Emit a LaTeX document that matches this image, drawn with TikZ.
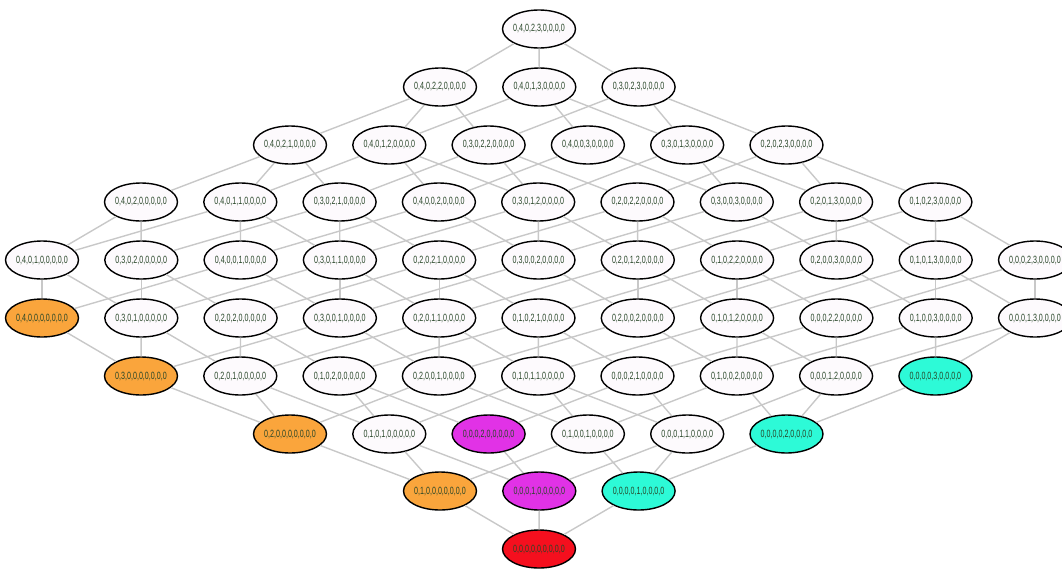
\documentclass[tikz,border=0pt]{standalone}
\usepackage{fontspec}
\usetikzlibrary{shapes.geometric}
\newfontfamily\lblfont[FakeStretch=0.68]{Liberation Sans}
\definecolor{lblgreen}{RGB}{40,70,40}
\definecolor{nodefill}{RGB}{253,250,253}
\definecolor{orn}{RGB}{250,165,60}
\definecolor{mgt}{RGB}{225,50,230}
\definecolor{cyn}{RGB}{45,250,215}
\definecolor{rd}{RGB}{245,15,30}
\definecolor{edgegray}{RGB}{200,200,200}

\begin{document}
\begin{tikzpicture}[x=1pt,y=-1pt,
  lat/.style={draw=black,line width=1.4pt,ellipse,minimum width=69pt,minimum height=38pt,inner sep=0pt,
    font=\lblfont\fontsize{10.5}{11}\selectfont,text=lblgreen},
  wht/.style={fill=nodefill},orng/.style={fill=orn},mag/.style={fill=mgt},cy/.style={fill=cyn},red/.style={fill=rd},
  edge/.style={draw=edgegray,line width=1.4pt}]
\useasboundingbox (0,0) rectangle (1062,568);
% rows of the lattice, top to bottom: node n<a><b><c> is 0,a,0,b,c,0,0,0,0
\foreach \a/\b/\c/\s [count=\i from 0] in {4/2/3/wht}
  \node[lat,\s] (n\a\b\c) at ({539+99.3*\i},29) {0,\a,0,\b,\c,0,0,0,0};
\foreach \a/\b/\c/\s [count=\i from 0] in {4/2/2/wht,4/1/3/wht,3/2/3/wht}
  \node[lat,\s] (n\a\b\c) at ({440+99.3*\i},87) {0,\a,0,\b,\c,0,0,0,0};
\foreach \a/\b/\c/\s [count=\i from 0] in {4/2/1/wht,4/1/2/wht,3/2/2/wht,4/0/3/wht,3/1/3/wht,2/2/3/wht}
  \node[lat,\s] (n\a\b\c) at ({290+99.3*\i},145) {0,\a,0,\b,\c,0,0,0,0};
\foreach \a/\b/\c/\s [count=\i from 0] in {4/2/0/wht,4/1/1/wht,3/2/1/wht,4/0/2/wht,3/1/2/wht,2/2/2/wht,3/0/3/wht,2/1/3/wht,1/2/3/wht}
  \node[lat,\s] (n\a\b\c) at ({141+99.3*\i},202) {0,\a,0,\b,\c,0,0,0,0};
\foreach \a/\b/\c/\s [count=\i from 0] in {4/1/0/wht,3/2/0/wht,4/0/1/wht,3/1/1/wht,2/2/1/wht,3/0/2/wht,2/1/2/wht,1/2/2/wht,2/0/3/wht,1/1/3/wht,0/2/3/wht}
  \node[lat,\s] (n\a\b\c) at ({42+99.3*\i},260) {0,\a,0,\b,\c,0,0,0,0};
\foreach \a/\b/\c/\s [count=\i from 0] in {4/0/0/orng,3/1/0/wht,2/2/0/wht,3/0/1/wht,2/1/1/wht,1/2/1/wht,2/0/2/wht,1/1/2/wht,0/2/2/wht,1/0/3/wht,0/1/3/wht}
  \node[lat,\s] (n\a\b\c) at ({42+99.3*\i},318) {0,\a,0,\b,\c,0,0,0,0};
\foreach \a/\b/\c/\s [count=\i from 0] in {3/0/0/orng,2/1/0/wht,1/2/0/wht,2/0/1/wht,1/1/1/wht,0/2/1/wht,1/0/2/wht,0/1/2/wht,0/0/3/cy}
  \node[lat,\s] (n\a\b\c) at ({141+99.3*\i},376) {0,\a,0,\b,\c,0,0,0,0};
\foreach \a/\b/\c/\s [count=\i from 0] in {2/0/0/orng,1/1/0/wht,0/2/0/mag,1/0/1/wht,0/1/1/wht,0/0/2/cy}
  \node[lat,\s] (n\a\b\c) at ({290+99.3*\i},434) {0,\a,0,\b,\c,0,0,0,0};
\foreach \a/\b/\c/\s [count=\i from 0] in {1/0/0/orng,0/1/0/mag,0/0/1/cy}
  \node[lat,\s] (n\a\b\c) at ({440+99.3*\i},491) {0,\a,0,\b,\c,0,0,0,0};
\foreach \a/\b/\c/\s [count=\i from 0] in {0/0/0/red}
  \node[lat,\s] (n\a\b\c) at ({539+99.3*\i},549) {0,\a,0,\b,\c,0,0,0,0};
% covering edges
\foreach \a in {0,...,4} \foreach \b in {0,1,2} \foreach \c in {0,...,3} {
  \ifnum\a>0 \pgfmathtruncatemacro\p{\a-1}\draw[edge] (n\a\b\c) -- (n\p\b\c);\fi
  \ifnum\b>0 \pgfmathtruncatemacro\q{\b-1}\draw[edge] (n\a\b\c) -- (n\a\q\c);\fi
  \ifnum\c>0 \pgfmathtruncatemacro\t{\c-1}\draw[edge] (n\a\b\c) -- (n\a\b\t);\fi
}
\end{tikzpicture}
\end{document}
